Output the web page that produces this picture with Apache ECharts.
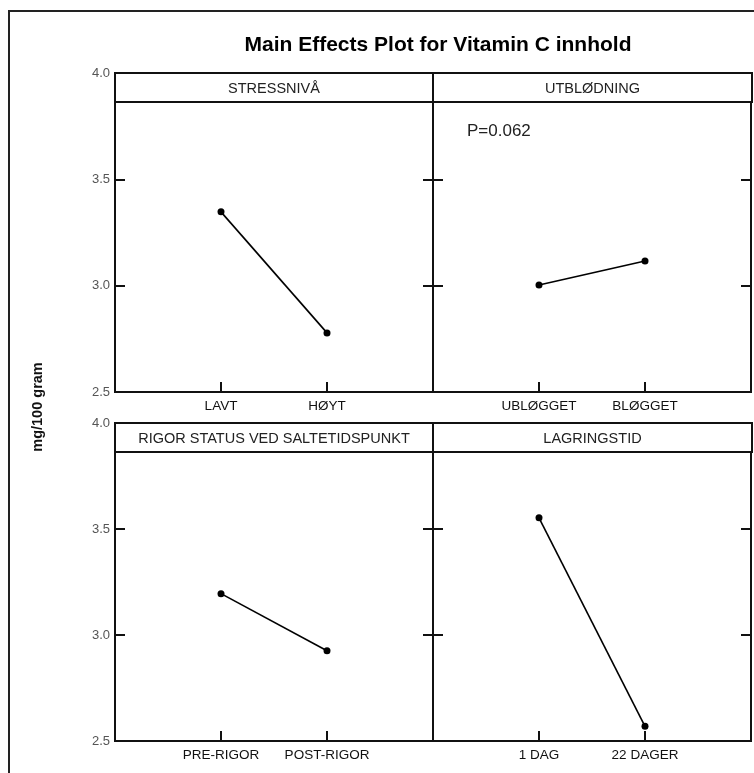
<!DOCTYPE html>
<html>
<head>
<meta charset="utf-8">
<script src="https://cdn.jsdelivr.net/npm/echarts@6/dist/echarts.min.js"></script>
<style>html,body{margin:0;padding:0;background:#fff}#c{width:754px;height:773px}</style>
</head>
<body>
<div id="c"></div>
<script>
// ---- data ----
const panelTitles = ['STRESSNIVÅ', 'UTBLØDNING', 'RIGOR STATUS VED SALTETIDSPUNKT', 'LAGRINGSTID'];
const catsStress = ['LAVT', 'HØYT'];
const catsUtblod = ['UBLØGGET', 'BLØGGET'];
const catsRigor = ['PRE-RIGOR', 'POST-RIGOR'];
const catsLagring = ['1 DAG', '22 DAGER'];
const valsStress = [3.347, 2.778];
const valsUtblod = [3.003, 3.116];
const valsRigor = [3.195, 2.926];
const valsLagring = [3.553, 2.569];
const yTicks = [2.5, 3.0, 3.5, 4.0];
const pText = 'P=0.062';

const allCats = [catsStress, catsUtblod, catsRigor, catsLagring];
const allVals = [valsStress, valsUtblod, valsRigor, valsLagring];

// ---- layout ----
const FONT = '"Liberation Sans", Arial, sans-serif';
const grids = [
  {left: 115, top: 73, width: 318, height: 319},
  {left: 433, top: 73, width: 319, height: 319},
  {left: 115, top: 423, width: 318, height: 318},
  {left: 433, top: 423, width: 319, height: 318}
];
const headerH = 29;

const chart = echarts.init(document.getElementById('c'), null, {renderer: 'canvas'});

const xAxis = [], yAxis = [], series = [], graphic = [];
grids.forEach((g, i) => {
  const cats = allCats[i];
  xAxis.push({
    type: 'value', gridIndex: i, min: 0, max: 3, interval: 1,
    axisLine: {show: true, lineStyle: {color: '#111', width: 2}},
    axisTick: {show: true, inside: true, length: 10, lineStyle: {color: '#111', width: 2}},
    splitLine: {show: false},
    axisLabel: {
      show: true, margin: 7, color: '#111', fontFamily: FONT, fontSize: 13.5,
      formatter: v => (v >= 1 && v <= cats.length) ? cats[v - 1] : ''
    }
  });
  const showLab = (i % 2 === 0);
  ['left', 'right'].forEach(pos => {
    yAxis.push({
      type: 'value', gridIndex: i, position: pos, min: yTicks[0], max: yTicks[yTicks.length - 1], interval: 0.5,
      axisLine: {show: true, lineStyle: {color: '#111', width: 2}},
      axisTick: {show: true, inside: true, length: 10, lineStyle: {color: '#111', width: 2}},
      splitLine: {show: false},
      axisLabel: {
        show: showLab && pos === 'left', margin: 5, color: '#555', fontFamily: FONT, fontSize: 13,
        formatter: v => v.toFixed(1)
      }
    });
  });
  series.push({
    type: 'line', xAxisIndex: i, yAxisIndex: i * 2,
    data: allVals[i].map((v, k) => [k + 1, v]),
    symbol: 'circle', symbolSize: 7,
    itemStyle: {color: '#000'},
    lineStyle: {color: '#000', width: 1.6},
    silent: true, animation: false
  });
  graphic.push({
    type: 'rect', z: 10,
    shape: {x: g.left, y: g.top, width: g.width, height: headerH},
    style: {fill: '#fff', stroke: '#111', lineWidth: 2}
  });
  graphic.push({
    type: 'text', z: 11,
    x: g.left + g.width / 2, y: g.top + headerH / 2 + 1,
    style: {text: panelTitles[i], fill: '#222', font: '14.5px ' + FONT, textAlign: 'center', textVerticalAlign: 'middle'}
  });
});

// outer frame
graphic.push({
  type: 'rect', z: 1,
  shape: {x: 9, y: 11, width: 780, height: 800},
  style: {fill: 'none', stroke: '#222', lineWidth: 2}
});
// p-value annotation
graphic.push({
  type: 'text', z: 11, x: 467, y: 131,
  style: {text: pText, fill: '#222', font: '17px ' + FONT, textAlign: 'left', textVerticalAlign: 'middle'}
});
// y axis name
graphic.push({
  type: 'text', z: 11, x: 38, y: 407, rotation: Math.PI / 2,
  style: {text: 'mg/100 gram', fill: '#111', font: 'bold 14.5px ' + FONT, textAlign: 'center', textVerticalAlign: 'middle'}
});

chart.setOption({
  animation: false,
  backgroundColor: '#fff',
  title: {
    text: 'Main Effects Plot for Vitamin C innhold',
    left: 433, top: 30, textAlign: 'center',
    textStyle: {fontFamily: FONT, fontSize: 21, fontWeight: 'bold', color: '#000'}
  },
  grid: grids.map(g => Object.assign({show: true, borderColor: '#111', borderWidth: 2, backgroundColor: 'transparent'}, g)),
  xAxis: xAxis,
  yAxis: yAxis,
  series: series,
  graphic: graphic
});
</script>
</body>
</html>
